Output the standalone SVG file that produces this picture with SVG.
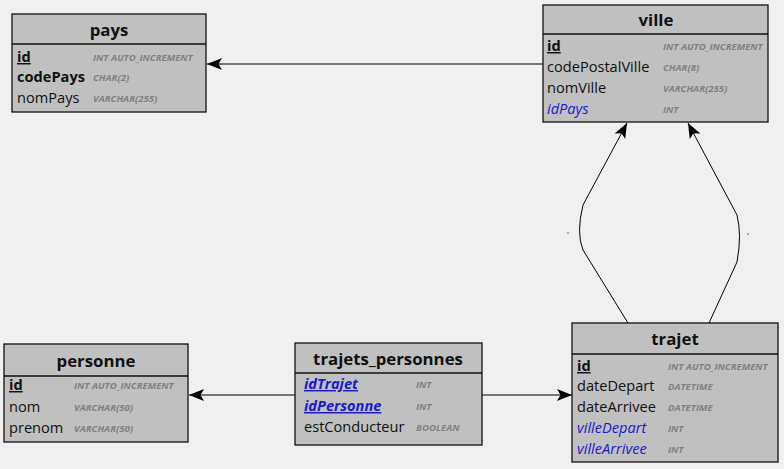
<svg xmlns="http://www.w3.org/2000/svg" width="784" height="469" viewBox="0 0 784 469">
<defs>
<style>
.box{fill:#c0c0c0;stroke:#111;stroke-width:1.3}
.sep{stroke:#111;stroke-width:1.3}
.title{font-family:"Open Sans","DejaVu Sans",sans-serif;font-weight:bold;font-size:16.8px;fill:#111;text-anchor:middle}
.f{font-family:"Open Sans","DejaVu Sans",sans-serif;font-size:14.6px;fill:#111}
.pk{font-weight:bold;text-decoration:underline}
.b{font-weight:bold}
.fk{fill:#1a1acc;font-style:italic}
.t{font-family:"Open Sans","DejaVu Sans",sans-serif;font-size:9.6px;font-weight:bold;font-style:italic;fill:#808080}
.c{fill:none;stroke:#000;stroke-width:1}
</style>
<marker id="arr" markerWidth="17" markerHeight="15" refX="16" refY="7.5" orient="auto" markerUnits="userSpaceOnUse">
<path d="M16,7.5 L1,1.5 L4.5,7.5 L1,13.5 Z" fill="#000"/>
</marker>
</defs>
<rect width="784" height="469" fill="#f0f0f0"/>

<g id="connectors">
<line class="c" x1="543" y1="64" x2="207" y2="64" marker-end="url(#arr)"/>
<line class="c" x1="295" y1="395" x2="189" y2="395" marker-end="url(#arr)"/>
<line class="c" x1="482" y1="395" x2="572" y2="395" marker-end="url(#arr)"/>
<path class="c" d="M628,323 L583,250 Q576,233 583,205 L627,123" marker-end="url(#arr)"/>
<path class="c" d="M709,323 L737,262 Q742,235 737,215 L688,123" marker-end="url(#arr)"/>
<circle cx="568" cy="233" r="0.7" fill="#333"/>
<circle cx="748" cy="234" r="0.7" fill="#333"/>
</g>

<g id="pays">
<rect class="box" x="12" y="14" width="194" height="98"/>
<line class="sep" x1="12" y1="44" x2="206" y2="44"/>
<text class="title" x="109" y="36">pays</text>
<text class="f pk" x="17" y="62">id</text>
<text class="t" x="93" y="61">INT AUTO_INCREMENT</text>
<text class="f b" x="17" y="82">codePays</text>
<text class="t" x="93" y="81">CHAR(2)</text>
<text class="f" x="17" y="103">nomPays</text>
<text class="t" x="93" y="102">VARCHAR(255)</text>
</g>

<g id="ville">
<rect class="box" x="543" y="5" width="225" height="117"/>
<line class="sep" x1="543" y1="34" x2="768" y2="34"/>
<text class="title" x="656" y="26">ville</text>
<text class="f pk" x="547" y="51">id</text>
<text class="t" x="663" y="50">INT AUTO_INCREMENT</text>
<text class="f" x="547" y="72">codePostalVille</text>
<text class="t" x="663" y="71">CHAR(8)</text>
<text class="f" x="547" y="93">nomVille</text>
<text class="t" x="663" y="92">VARCHAR(255)</text>
<text class="f fk" x="547" y="114">idPays</text>
<text class="t" x="663" y="113">INT</text>
</g>

<g id="trajet">
<rect class="box" x="572" y="323" width="206" height="139"/>
<line class="sep" x1="572" y1="354" x2="778" y2="354"/>
<text class="title" x="675" y="345">trajet</text>
<text class="f pk" x="577" y="371">id</text>
<text class="t" x="668" y="370">INT AUTO_INCREMENT</text>
<text class="f" x="577" y="391">dateDepart</text>
<text class="t" x="668" y="390">DATETIME</text>
<text class="f" x="577" y="412">dateArrivee</text>
<text class="t" x="668" y="411">DATETIME</text>
<text class="f fk" x="577" y="433">villeDepart</text>
<text class="t" x="668" y="432">INT</text>
<text class="f fk" x="577" y="454">villeArrivee</text>
<text class="t" x="668" y="453">INT</text>
</g>

<g id="personne">
<rect class="box" x="4" y="344" width="184" height="98"/>
<line class="sep" x1="4" y1="376" x2="188" y2="376"/>
<text class="title" x="96" y="367">personne</text>
<text class="f pk" x="9" y="390">id</text>
<text class="t" x="74" y="389">INT AUTO_INCREMENT</text>
<text class="f" x="9" y="412">nom</text>
<text class="t" x="74" y="411">VARCHAR(50)</text>
<text class="f" x="9" y="433">prenom</text>
<text class="t" x="74" y="432">VARCHAR(50)</text>
</g>

<g id="trajets_personnes">
<rect class="box" x="295" y="343" width="187" height="102"/>
<line class="sep" x1="295" y1="373" x2="482" y2="373"/>
<text class="title" x="388" y="365">trajets_personnes</text>
<text class="f pk fk" x="304" y="389">idTrajet</text>
<text class="t" x="416" y="388">INT</text>
<text class="f pk fk" x="304" y="411">idPersonne</text>
<text class="t" x="416" y="410">INT</text>
<text class="f" x="304" y="432">estConducteur</text>
<text class="t" x="416" y="431">BOOLEAN</text>
</g>
</svg>
